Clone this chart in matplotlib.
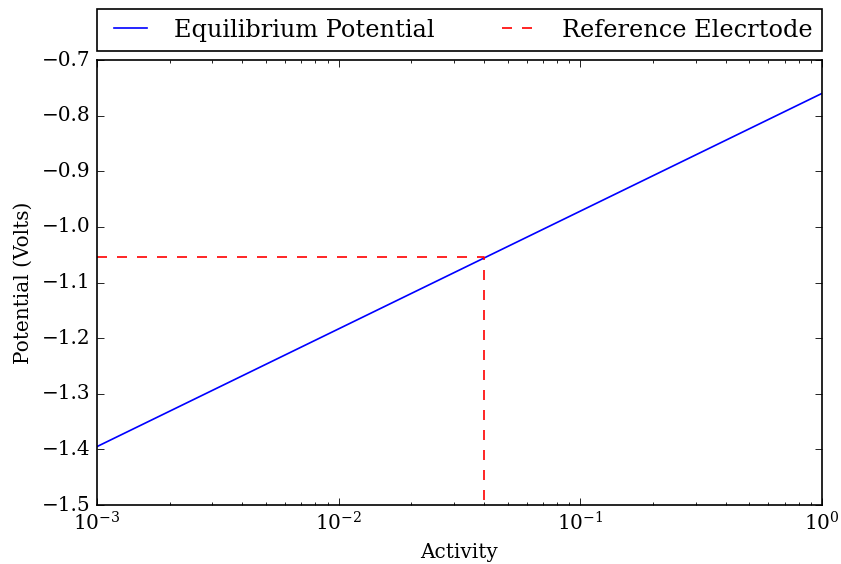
import matplotlib
matplotlib.use('Agg')
import matplotlib.pyplot as plt

# equilibrium potential vs activity (straight line on log x)
activity = [1e-3, 1.0]
potential = [-1.395, -0.76]

# reference electrode marker lines
ref_activity = [1e-3, 0.04, 0.04]
ref_potential = [-1.055, -1.055, -1.5]

plt.style.use('classic')
plt.rcParams['font.family'] = 'serif'
plt.rcParams['font.serif'] = ['DejaVu Serif']

fig = plt.figure(figsize=(8.41 / 1.2, 5.64 / 1.2), dpi=120)
fig.subplots_adjust(left=0.1153, right=0.9774, top=0.8936, bottom=0.1046)
ax = fig.add_subplot(111)

ax.semilogx(activity, potential, 'b-', label='Equilibrium Potential')
ax.semilogx(ref_activity, ref_potential, 'r--', label='Reference Elecrtode')

ax.set_xlim(1e-3, 1)
ax.set_ylim(-1.5, -0.7)
ax.set_xlabel('Activity')
ax.set_ylabel('Potential (Volts)')

ax.legend(bbox_to_anchor=(0., 1.02, 1., .102), loc=3, ncol=2,
          mode='expand', borderaxespad=0.)

fig.savefig('out.png', dpi=120)
